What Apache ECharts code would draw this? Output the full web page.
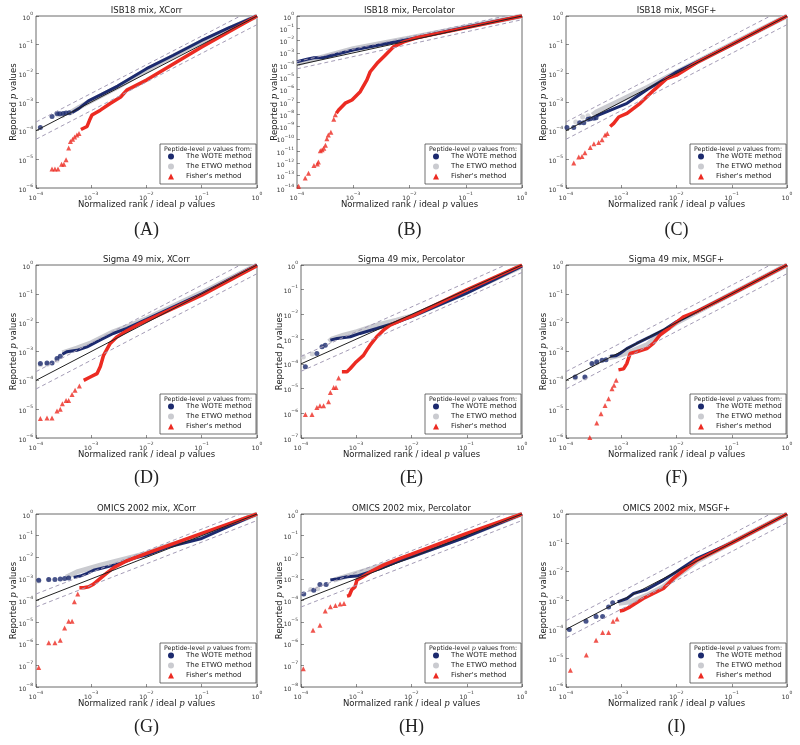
<!DOCTYPE html>
<html><head><meta charset="utf-8">
<script src="https://cdn.jsdelivr.net/npm/echarts@6/dist/echarts.min.js"></script>
<style>html,body{margin:0;padding:0;background:#fff}#c{width:800px;height:745px}</style>
</head><body><div id="c"></div>
<script>
// ---------------- DATA ----------------
const panelTitles = ['ISB18 mix, XCorr','ISB18 mix, Percolator','ISB18 mix, MSGF+',
  'Sigma 49 mix, XCorr','Sigma 49 mix, Percolator','Sigma 49 mix, MSGF+',
  'OMICS 2002 mix, XCorr','OMICS 2002 mix, Percolator','OMICS 2002 mix, MSGF+'];
const panelLetters = ['(A)','(B)','(C)','(D)','(E)','(F)','(G)','(H)','(I)'];
const yMins = [1e-6,1e-14,1e-6,1e-6,1e-7,1e-6,1e-8,1e-8,1e-6];
const xMin = 1e-4, xMax = 1, yMax = 1;
const methodNames = ['The WOTE method','The ETWO method',"Fisher's method"];
const legendHeader = 'Peptide-level {i|p} values from:';
const xAxisTitle = 'Normalized rank / ideal {i|p} values';
const yAxisTitle = 'Reported {i|p} values';
// reference lines: y = x, y = 2x, y = x/2
const diagonal = [[1e-4,1e-4],[1,1]];
const upperBand = [[1e-4,2e-4],[0.5,1]];
const lowerBand = [[1e-4,5e-5],[1,0.5]];

// Panel A
const A_wote_pts = [[1.2e-4,1.3e-4],[1.95e-4,3.1e-4],[2.4e-4,4e-4],[2.7e-4,3.9e-4],[3.1e-4,4e-4],[3.5e-4,4.1e-4],[4e-4,4.2e-4]];
const A_wote_curve = [[4.5e-4,4.3e-4],[6e-4,6e-4],[8.9e-4,1.1e-3],[1.5e-3,1.8e-3],[3e-3,3.6e-3],[1e-2,1.45e-2],[3e-2,4.2e-2],[0.1,0.14],[0.3,0.38],[1,1]];
const A_etwo_pts = [[2.5e-4,3.5e-4],[3e-4,3.3e-4]];
const A_etwo_curve = [[4e-4,4e-4],[6e-4,6.5e-4],[1e-3,1.1e-3],[3e-3,3.3e-3],[1e-2,1.3e-2],[0.1,0.13],[1,1]];
const A_fisher_pts = [[1.95e-4,4.6e-6],[2.2e-4,4.6e-6],[2.5e-4,4.6e-6],[2.9e-4,6.8e-6],[3.2e-4,6.8e-6],[3.5e-4,9.6e-6],[3.9e-4,2.5e-5],[4.2e-4,4.2e-5],[4.6e-4,5e-5],[5e-4,6e-5],[5.5e-4,7e-5],[6e-4,8e-5]];
const A_fisher_curve = [[6.5e-4,1.1e-4],[8.4e-4,1.4e-4],[9.3e-4,2.3e-4],[1.03e-3,3.5e-4],[1.46e-3,5.2e-4],[2.2e-3,8.9e-4],[3.4e-3,1.5e-3],[4.4e-3,2.6e-3],[1e-2,5.8e-3],[0.1,0.083],[1,1]];
// Panel B
const B_wote_pts = [];
const B_wote_curve = [[1e-4,1.9e-4],[1.5e-4,3e-4],[2e-4,4e-4],[3e-4,4.2e-4],[1e-3,1.7e-3],[1e-2,1.3e-2],[0.1,0.12],[1,1]];
const B_etwo_pts = [];
const B_etwo_curve = [[1e-4,1.3e-4],[3e-4,5e-4],[1e-3,2.2e-3],[1e-2,1.6e-2],[0.1,0.13],[1,1]];
const B_fisher_pts = [[1.07e-4,1.4e-14],[1.4e-4,6.5e-14],[1.6e-4,1.6e-13],[2e-4,6.9e-13],[2.3e-4,8.9e-13],[2.4e-4,1.3e-12],[2.6e-4,1.1e-11],[2.8e-4,1.3e-11],[3e-4,1.7e-11],[3.2e-4,3e-11],[3.4e-4,1e-10],[3.6e-4,2.1e-10],[4e-4,3.5e-10],[4.5e-4,4e-9],[4.8e-4,9e-9]];
const B_fisher_curve = [[5e-4,1.2e-8],[5.5e-4,2.2e-8],[7.2e-4,8e-8],[9.5e-4,1.45e-7],[1.33e-3,6.9e-7],[1.75e-3,6.3e-6],[2e-3,2.9e-5],[2.65e-3,1.4e-4],[3.7e-3,6.5e-4],[5.2e-3,3.1e-3],[7.9e-3,7.9e-3],[1.35e-2,1.7e-2],[3.1e-2,3.7e-2],[0.12,0.13],[1,1]];
// Panel C
const C_wote_pts = [[1.04e-4,1.3e-4],[1.38e-4,1.3e-4],[1.77e-4,1.9e-4],[2.1e-4,1.9e-4],[2.5e-4,2.5e-4],[2.75e-4,2.6e-4],[3.2e-4,2.7e-4],[3.5e-4,2.8e-4]];
const C_wote_curve = [[3.5e-4,3.2e-4],[1.27e-3,9e-4],[3e-3,2.8e-3],[1e-2,1.1e-2],[0.1,0.1],[1,1]];
const C_etwo_pts = [[1.5e-4,2e-4],[2e-4,3e-4],[2.5e-4,3.3e-4]];
const C_etwo_curve = [[3e-4,3.5e-4],[3.6e-4,4.6e-4],[8.4e-4,1e-3],[1.46e-3,1.7e-3],[3e-3,3.3e-3],[1e-2,1.1e-2],[1,1]];
const C_fisher_pts = [[1.38e-4,7.4e-6],[1.7e-4,1.2e-5],[1.95e-4,1.25e-5],[2.2e-4,1.7e-5],[2.75e-4,2.6e-5],[3.2e-4,3.5e-5],[3.9e-4,3.9e-5],[4.5e-4,4.8e-5],[5.1e-4,7e-5],[5.6e-4,8e-5]];
const C_fisher_curve = [[6.3e-4,1.4e-4],[7.3e-4,1.8e-4],[9e-4,3e-4],[1.27e-3,4e-4],[2.2e-3,9e-4],[3.9e-3,2.6e-3],[6.7e-3,6.6e-3],[1e-2,8.6e-3],[2.35e-2,2.4e-2],[0.1,0.1],[1,1]];
// Panel D
const D_wote_pts = [[1.2e-4,3.8e-4],[1.58e-4,4e-4],[1.95e-4,4e-4],[2.4e-4,5.7e-4],[2.75e-4,6.9e-4]];
const D_wote_curve = [[3e-4,8e-4],[3.6e-4,9.8e-4],[5.5e-4,1.1e-3],[8.4e-4,1.45e-3],[1.46e-3,2.5e-3],[2.5e-3,4.2e-3],[4.4e-3,6.3e-3],[1e-2,1.3e-2],[0.1,0.1],[1,1]];
const D_etwo_pts = [[1.2e-4,3.5e-4],[1.6e-4,3.6e-4],[2.4e-4,5e-4]];
const D_etwo_curve = [[3e-4,9e-4],[5.5e-4,1.3e-3],[1e-3,2e-3],[2.5e-3,4.8e-3],[5e-3,8e-3],[1e-2,1.4e-2],[0.1,0.11],[1,1]];
const D_fisher_pts = [[1.2e-4,4.7e-6],[1.58e-4,4.9e-6],[1.95e-4,4.9e-6],[2.4e-4,8.7e-6],[2.75e-4,1e-5],[3e-4,1.55e-5],[3.5e-4,2e-5],[3.9e-4,2e-5],[4.5e-4,3.2e-5],[5.1e-4,4.5e-5],[6.1e-4,6.3e-5]];
const D_fisher_curve = [[7.3e-4,1e-4],[9.6e-4,1.3e-4],[1.27e-3,1.7e-4],[1.46e-3,3e-4],[1.67e-3,7.4e-4],[2.2e-3,1.9e-3],[2.9e-3,3.2e-3],[4.4e-3,5.2e-3],[7.7e-3,9.3e-3],[0.1,0.09],[1,0.95]];
// Panel E
const E_wote_pts = [[1.2e-4,7.6e-5],[1.94e-4,2.6e-4],[2.4e-4,4.9e-4],[2.75e-4,5.7e-4]];
const E_wote_curve = [[3.4e-4,9.1e-4],[4.5e-4,1.07e-3],[7.8e-4,1.25e-3],[1.17e-3,1.7e-3],[2.35e-3,2.7e-3],[4.7e-3,4.3e-3],[1.07e-2,8.5e-3],[0.1,0.072],[1,0.9]];
const E_etwo_pts = [[1.1e-4,1.9e-4],[1.6e-4,2.5e-4]];
const E_etwo_curve = [[3.2e-4,8e-4],[3.6e-4,1e-3],[5.9e-4,1.45e-3],[1.03e-3,2e-3],[2.35e-3,3.7e-3],[5.4e-3,5.9e-3],[1.07e-2,9e-3],[0.1,0.08],[1,0.9]];
const E_fisher_pts = [[1.2e-4,9e-7],[1.58e-4,9e-7],[1.94e-4,1.7e-6],[2.2e-4,2e-6],[2.56e-4,2e-6],[3.15e-4,2.9e-6],[3.4e-4,6.9e-6],[3.9e-4,1.1e-5],[4.3e-4,1.1e-5],[4.8e-4,2.7e-5]];
const E_fisher_curve = [[5.5e-4,4.8e-5],[6.8e-4,4.8e-5],[7.8e-4,6.5e-5],[9.6e-4,1.1e-4],[1.17e-3,1.65e-4],[1.35e-3,2.2e-4],[1.55e-3,3.6e-4],[1.78e-3,5.7e-4],[2.35e-3,1.25e-3],[3.1e-3,2.3e-3],[4.1e-3,3.7e-3],[7.1e-3,6.3e-3],[1.07e-2,9e-3],[0.1,0.098],[1,1]];
// Panel F
const F_wote_pts = [[1.47e-4,1.3e-4],[2.2e-4,1.3e-4],[2.95e-4,3.8e-4],[3.6e-4,4.4e-4],[4.5e-4,5e-4],[5.3e-4,5.2e-4]];
const F_wote_curve = [[6.3e-4,6.9e-4],[8.1e-4,7.1e-4],[9.5e-4,8.5e-4],[1.26e-3,1.26e-3],[1.9e-3,1.9e-3],[3.3e-3,3.2e-3],[5.8e-3,5.5e-3],[1e-2,1.07e-2],[0.1,0.1],[1,1]];
const F_etwo_pts = [[1.47e-4,1.2e-4],[2.2e-4,1.2e-4],[3e-4,3.5e-4],[3.6e-4,4e-4]];
const F_etwo_curve = [[6e-4,6e-4],[9.5e-4,7.5e-4],[1.3e-3,9e-4],[2.9e-3,1.7e-3],[5e-3,4e-3],[1e-2,1e-2],[0.1,0.1],[1,1]];
const F_fisher_pts = [[2.7e-4,1.05e-6],[3.6e-4,3.3e-6],[4.3e-4,6.9e-6],[5.1e-4,1.35e-5],[5.9e-4,2.3e-5],[6.8e-4,5.1e-5],[7.4e-4,6.8e-5],[8.1e-4,1e-4]];
const F_fisher_curve = [[8.9e-4,2.3e-4],[1.1e-3,2.5e-4],[1.26e-3,3.8e-4],[1.45e-3,8.5e-4],[1.9e-3,9.8e-4],[2.9e-3,1.26e-3],[3.8e-3,1.9e-3],[5e-3,3.7e-3],[7.6e-3,6.8e-3],[1.33e-2,1.6e-2],[2.3e-2,2.4e-2],[0.1,0.1],[1,1]];
// Panel G
const G_wote_pts = [[1.12e-4,8.7e-4],[1.7e-4,9.4e-4],[2.2e-4,9.4e-4],[2.75e-4,1e-3],[3.3e-4,1.05e-3],[3.9e-4,1.1e-3]];
const G_wote_curve = [[4.8e-4,1.17e-3],[6.3e-4,1.35e-3],[8.4e-4,1.8e-3],[1.1e-3,2.5e-3],[1.93e-3,3.6e-3],[3.4e-3,5.2e-3],[5.8e-3,8.9e-3],[1e-2,1.26e-2],[2.35e-2,2.9e-2],[0.1,0.074],[1,1]];
const G_etwo_pts = [[1.12e-4,8e-4],[1.7e-4,9e-4]];
const G_etwo_curve = [[3.5e-4,1.2e-3],[5.5e-4,2.1e-3],[1.46e-3,4.3e-3],[4.4e-3,8.9e-3],[1e-2,1.5e-2],[2.3e-2,3.3e-2],[0.1,0.1],[1,1]];
const G_fisher_pts = [[1.12e-4,7.9e-8],[1.7e-4,1.1e-6],[2.2e-4,1.1e-6],[2.75e-4,1.45e-6],[3.3e-4,5.4e-6],[3.9e-4,1.1e-5],[4.5e-4,1.1e-5],[4.95e-4,8.7e-5],[5.7e-4,2e-4]];
const G_fisher_curve = [[6.1e-4,3.9e-4],[7.3e-4,3.9e-4],[9e-4,4.3e-4],[1.1e-3,5.7e-4],[1.46e-3,1.05e-3],[1.93e-3,1.9e-3],[2.6e-3,3.4e-3],[4.4e-3,6.9e-3],[1e-2,1.5e-2],[0.1,0.127],[1,1]];
// Panel H
const H_wote_pts = [[1.12e-4,2e-4],[1.7e-4,3e-4],[2.2e-4,5.5e-4],[2.85e-4,5.5e-4]];
const H_wote_curve = [[3.4e-4,8.8e-4],[4.5e-4,1e-3],[6.8e-4,1.25e-3],[1.03e-3,1.35e-3],[1.55e-3,1.9e-3],[2.7e-3,3e-3],[5.4e-3,6.2e-3],[1e-2,1.05e-2],[0.1,0.089],[1,1]];
const H_etwo_pts = [[1.5e-4,3.2e-4],[2e-4,3.5e-4]];
const H_etwo_curve = [[3.9e-4,8.8e-4],[8.9e-4,1.66e-3],[2.7e-3,3.9e-3],[1e-2,1.15e-2],[0.1,0.1],[1,1]];
const H_fisher_pts = [[1.1e-4,7e-8],[1.65e-4,4.2e-6],[2.2e-4,7.2e-6],[2.75e-4,3.3e-5],[3.4e-4,5.1e-5],[4.2e-4,5.9e-5],[5.1e-4,6.8e-5],[6e-4,7.3e-5]];
const H_fisher_curve = [[6.8e-4,1.6e-4],[7.5e-4,1.7e-4],[8.3e-4,3.2e-4],[9.5e-4,4.3e-4],[1.03e-3,8.8e-4],[1.25e-3,1.17e-3],[1.8e-3,2.1e-3],[3.1e-3,4.3e-3],[6.2e-3,8.9e-3],[1e-2,1.4e-2],[0.1,0.127],[1,1]];
// Panel I
const I_wote_pts = [[1.15e-4,9.8e-5],[2.3e-4,1.9e-4],[3.5e-4,2.8e-4],[4.6e-4,2.8e-4],[5.9e-4,6e-4],[7e-4,8.3e-4]];
const I_wote_curve = [[8.6e-4,9e-4],[1.27e-3,1.17e-3],[1.67e-3,1.75e-3],[2.9e-3,2.4e-3],[5.8e-3,5.1e-3],[1e-2,1e-2],[2.35e-2,2.9e-2],[0.1,0.1],[1,1]];
const I_etwo_pts = [];
const I_etwo_curve = [[9e-4,8e-4],[1.45e-3,9e-4],[2.9e-3,1.5e-3],[5.8e-3,3e-3],[1.17e-2,8.7e-3],[2.5e-2,2.5e-2],[0.1,0.1],[1,1]];
const I_fisher_pts = [[1.2e-4,3.8e-6],[2.33e-4,1.3e-5],[3.5e-4,4.2e-5],[4.6e-4,7.7e-5],[5.9e-4,7.7e-5],[7.1e-4,1.9e-4],[8.4e-4,2.3e-4]];
const I_fisher_curve = [[9.4e-4,4.3e-4],[1.1e-3,4.6e-4],[1.45e-3,6e-4],[2.5e-3,1.17e-3],[3.8e-3,1.75e-3],[5.8e-3,2.6e-3],[8.8e-3,5.8e-3],[1.34e-2,1.1e-2],[2.35e-2,2.5e-2],[0.1,0.1],[1,1]];

const wotePts = [A_wote_pts,B_wote_pts,C_wote_pts,D_wote_pts,E_wote_pts,F_wote_pts,G_wote_pts,H_wote_pts,I_wote_pts];
const woteCurves = [A_wote_curve,B_wote_curve,C_wote_curve,D_wote_curve,E_wote_curve,F_wote_curve,G_wote_curve,H_wote_curve,I_wote_curve];
const etwoPts = [A_etwo_pts,B_etwo_pts,C_etwo_pts,D_etwo_pts,E_etwo_pts,F_etwo_pts,G_etwo_pts,H_etwo_pts,I_etwo_pts];
const etwoCurves = [A_etwo_curve,B_etwo_curve,C_etwo_curve,D_etwo_curve,E_etwo_curve,F_etwo_curve,G_etwo_curve,H_etwo_curve,I_etwo_curve];
const fisherPts = [A_fisher_pts,B_fisher_pts,C_fisher_pts,D_fisher_pts,E_fisher_pts,F_fisher_pts,G_fisher_pts,H_fisher_pts,I_fisher_pts];
const fisherCurves = [A_fisher_curve,B_fisher_curve,C_fisher_curve,D_fisher_curve,E_fisher_curve,F_fisher_curve,G_fisher_curve,H_fisher_curve,I_fisher_curve];

// ---------------- LAYOUT / STYLE ----------------
const layout = [
  {l:36,t:16,w:221,h:172,g:18},{l:297,t:16,w:225,h:172,g:18},{l:566,t:16,w:221,h:172,g:18},
  {l:36,t:265,w:221,h:173,g:18},{l:301,t:265,w:221,h:173,g:17},{l:566,t:265,w:221,h:173,g:18},
  {l:36,t:514,w:221,h:173,g:18},{l:301,t:514,w:221,h:173,g:17},{l:566,t:514,w:221,h:173,g:18}];
const letterY = [230,478,727];
const NAVY = '#1c2a6e', GRAY = '#cacbd0', RED = '#ec2b22', DASH = '#a49cb6';
const SANS = 'DejaVu Sans';

function powLabel(v){
  const e = Math.round(Math.log10(v));
  return '{b|10}{s|' + (e < 0 ? '\u2212' + (-e) : e) + '}';
}
const tickRich = {
  b:{fontSize:6,lineHeight:10,verticalAlign:'bottom',fontFamily:SANS,color:'#333'},
  s:{fontSize:4.5,lineHeight:5,verticalAlign:'top',fontFamily:SANS,color:'#333'}
};
const nameRich = {i:{fontStyle:'italic',fontFamily:'DejaVu Serif',fontSize:8.5,color:'#222'}};

const grids=[],xAxes=[],yAxes=[],series=[],legends=[],graphics=[];
layout.forEach((L,i)=>{
  grids.push({left:L.l,top:L.t,width:L.w,height:L.h,show:true,borderColor:'#444',borderWidth:0.8,backgroundColor:'#fff'});
  const common = {
    gridIndex:i, type:'log', logBase:10, interval:1,
    axisLine:{show:false},
    axisTick:{show:true,inside:true,length:3,lineStyle:{color:'#444',width:0.6}},
    splitLine:{show:false},
    nameLocation:'middle', nameMoveOverlap:false,
    nameTextStyle:{fontSize:8.5,fontFamily:SANS,color:'#222',rich:nameRich}
  };
  xAxes.push(Object.assign({}, common, {
    min:xMin,max:xMax,name:xAxisTitle,nameGap:12,
    axisLabel:{formatter:powLabel,rich:tickRich,margin:3,hideOverlap:false}
  }));
  yAxes.push(Object.assign({}, common, {
    min:yMins[i],max:yMax,name:yAxisTitle,nameGap:L.g,
    axisLabel:{formatter:powLabel,rich:tickRich,margin:3,hideOverlap:false}
  }));
  const ax = {xAxisIndex:i,yAxisIndex:i,animation:false,silent:true};
  series.push(Object.assign({type:'line',name:methodNames[1],data:etwoCurves[i],showSymbol:false,
    lineStyle:{color:GRAY,width:5},itemStyle:{color:GRAY},z:2},ax));
  series.push(Object.assign({type:'scatter',name:methodNames[1],data:etwoPts[i],symbol:'circle',symbolSize:5,
    itemStyle:{color:GRAY},z:2},ax));
  series.push(Object.assign({type:'line',name:methodNames[0],data:woteCurves[i],showSymbol:false,
    lineStyle:{color:NAVY,width:3},itemStyle:{color:NAVY},z:3},ax));
  series.push(Object.assign({type:'scatter',name:methodNames[0],data:wotePts[i],symbol:'circle',symbolSize:5,
    itemStyle:{color:NAVY},z:3},ax));
  series.push(Object.assign({type:'line',name:methodNames[2],data:fisherCurves[i],showSymbol:false,
    lineStyle:{color:RED,width:3.5},itemStyle:{color:RED},z:3},ax));
  series.push(Object.assign({type:'scatter',name:methodNames[2],data:fisherPts[i],symbol:'triangle',symbolSize:5,
    itemStyle:{color:RED},z:3},ax));
  series.push(Object.assign({type:'line',data:upperBand,showSymbol:false,lineStyle:{color:DASH,width:1,type:[4,3]},z:4},ax));
  series.push(Object.assign({type:'line',data:lowerBand,showSymbol:false,lineStyle:{color:DASH,width:1,type:[4,3]},z:4},ax));
  series.push(Object.assign({type:'line',data:diagonal,showSymbol:false,lineStyle:{color:'#222',width:1},z:4},ax));

  // legend box
  const bx = L.l + L.w - 97, by = L.t + L.h - 44;
  graphics.push({type:'rect',z:10,shape:{x:bx,y:by,width:96,height:40},
    style:{fill:'#fff',stroke:'#333',lineWidth:0.7}});
  graphics.push({type:'text',z:11,x:bx+48,y:by+5,
    style:{text:legendHeader,fontSize:6.3,fontFamily:SANS,fill:'#222',align:'center',verticalAlign:'middle',
      rich:{i:{fontStyle:'italic',fontFamily:'DejaVu Serif',fontSize:6.3,fill:'#222'}}}});
  legends.push({left:bx+8,top:by+9,orient:'vertical',itemGap:3,itemWidth:6,itemHeight:6,z:12,
    selectedMode:false,padding:0,
    textStyle:{fontSize:7,fontFamily:SANS,color:'#222',padding:[0,0,0,7]},
    data:[{name:methodNames[0],icon:'circle'},{name:methodNames[1],icon:'circle'},{name:methodNames[2],icon:'triangle'}]});
  // panel title
  graphics.push({type:'text',x:L.l+L.w/2,y:L.t-5,
    style:{text:panelTitles[i],fontSize:8.5,fontFamily:SANS,fill:'#222',align:'center',verticalAlign:'middle'}});
  // panel letter
  graphics.push({type:'text',x:L.l+L.w/2,y:letterY[Math.floor(i/3)],
    style:{text:panelLetters[i],fontSize:18,fontFamily:'Liberation Serif',fill:'#222',align:'center',verticalAlign:'middle'}});
});

const chart = echarts.init(document.getElementById('c'),null,{renderer:'canvas'});
chart.setOption({animation:false,grid:grids,xAxis:xAxes,yAxis:yAxes,series:series,legend:legends,graphic:graphics});
</script></body></html>
